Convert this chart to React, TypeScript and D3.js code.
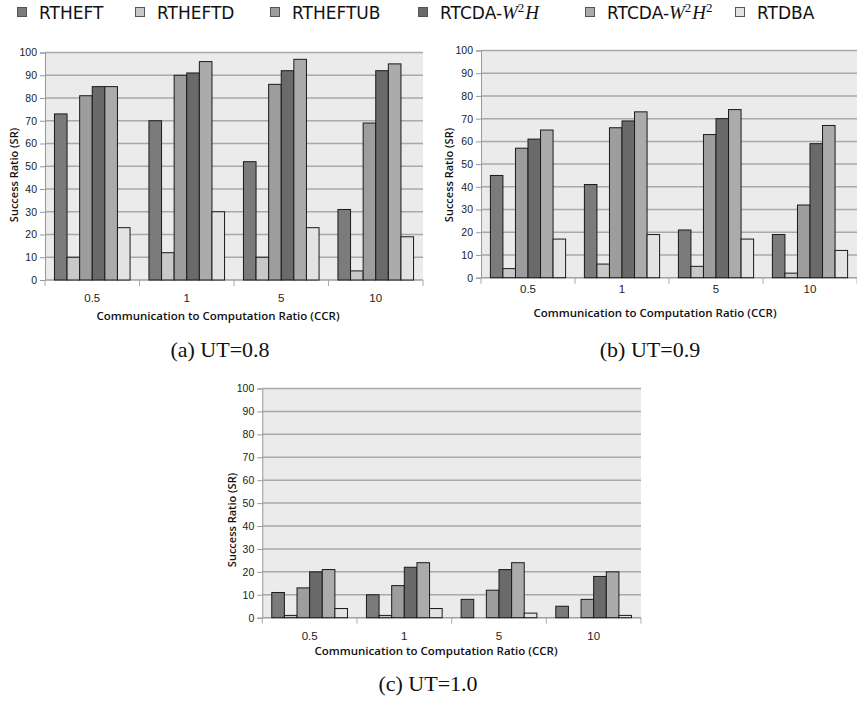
import React, { useEffect, useRef } from "react";
import * as d3 from "d3";

// CCR categories on the x axis
const categories = ["0.5", "1", "5", "10"];
const seriesNames = ["RTHEFT", "RTHEFTD", "RTHEFTUB", "RTCDA-W2H", "RTCDA-W2H2", "RTDBA"];
const seriesColors = ["#7b7b7b", "#c8c8c8", "#9d9d9d", "#6a6a6a", "#ababab", "#e3e3e3"];
const yTicks = [0, 10, 20, 30, 40, 50, 60, 70, 80, 90, 100];

// one row per series, values for CCR 0.5, 1, 5, 10
const ut08 = [
  [73, 70, 52, 31],
  [10, 12, 10, 4],
  [81, 90, 86, 69],
  [85, 91, 92, 92],
  [85, 96, 97, 95],
  [23, 30, 23, 19],
];
const ut09 = [
  [45, 41, 21, 19],
  [4, 6, 5, 2],
  [57, 66, 63, 32],
  [61, 69, 70, 59],
  [65, 73, 74, 67],
  [17, 19, 17, 12],
];
const ut10 = [
  [11, 10, 8, 5],
  [1, 1, 0, 0],
  [13, 14, 12, 8],
  [20, 22, 21, 18],
  [21, 24, 24, 20],
  [4, 4, 2, 1],
];
const captions = ["(a) UT=0.8", "(b) UT=0.9", "(c) UT=1.0"];

const panels = [
  { data: ut08, caption: captions[0], left: 45, right: 423, top: 52.5, bottom: 280,
    tickY: 302, titleX: 218, titleY: 320, yTitleX: 14, yTitleY: 175, capX: 220, capY: 357 },
  { data: ut09, caption: captions[1], left: 481, right: 857, top: 50.5, bottom: 277.7,
    tickY: 293, titleX: 655, titleY: 317, yTitleX: 449, yTitleY: 175, capX: 650, capY: 357 },
  { data: ut10, caption: captions[2], left: 262.3, right: 641, top: 388.5, bottom: 617.7,
    tickY: 640, titleX: 436, titleY: 655, yTitleX: 232, yTitleY: 520, capX: 428, capY: 691 },
];

const legendX = [17, 135, 270, 418, 585, 735];

const SANS = "'Open Sans', sans-serif";
const SERIF = "'Liberation Serif', serif";

function App() {
  const ref = useRef<SVGSVGElement>(null);

  useEffect(() => {
    const svg = d3.select(ref.current);
    svg.selectAll("*").remove();

    // legend
    const leg = svg.append("g");
    seriesNames.forEach((name, i) => {
      const g = leg.append("g").attr("transform", "translate(" + legendX[i] + ",0)");
      g.append("rect")
        .attr("x", 0.5)
        .attr("y", 7.5)
        .attr("width", 9)
        .attr("height", 9)
        .attr("fill", seriesColors[i])
        .attr("stroke", "#555")
        .attr("stroke-width", 1);
      const t = g.append("text")
        .attr("x", 22)
        .attr("y", 19)
        .attr("font-family", "'DejaVu Sans', sans-serif")
        .attr("font-size", 17)
        .attr("fill", "#111");
      if (name.startsWith("RTCDA")) {
        t.append("tspan").text("RTCDA-");
        t.append("tspan").attr("font-family", SERIF).attr("font-style", "italic").attr("font-size", 19).text("W");
        t.append("tspan").attr("font-family", SERIF).attr("font-size", 13).attr("dy", -7).text("2");
        t.append("tspan").attr("font-family", SERIF).attr("font-style", "italic").attr("font-size", 19).attr("dy", 7).attr("dx", 1).text("H");
        if (name.endsWith("H2")) {
          t.append("tspan").attr("font-family", SERIF).attr("font-size", 13).attr("dy", -7).text("2");
        }
      } else {
        t.text(name);
      }
    });

    panels.forEach((p) => {
      const g = svg.append("g");
      const x0 = d3.scaleBand().domain(categories).range([p.left, p.right]).paddingInner(0);
      const x1 = d3.scaleBand<number>()
        .domain(d3.range(seriesNames.length))
        .range([0, x0.bandwidth()])
        .paddingOuter(0.75)
        .paddingInner(0);
      const y = d3.scaleLinear().domain([0, 100]).range([p.bottom, p.top]);

      g.append("rect")
        .attr("x", p.left)
        .attr("y", p.top)
        .attr("width", p.right - p.left)
        .attr("height", p.bottom - p.top)
        .attr("fill", "#ebebeb");

      // grid
      g.selectAll(".grid")
        .data(yTicks.filter((d) => d > 0))
        .enter()
        .append("line")
        .attr("x1", p.left)
        .attr("x2", p.right)
        .attr("y1", (d) => y(d))
        .attr("y2", (d) => y(d))
        .attr("stroke", "#a9a9a9")
        .attr("stroke-width", 1.5);

      // y axis
      const yAxis = d3.axisLeft(y).tickValues(yTicks).tickSize(5).tickPadding(3);
      const ya = g.append("g").attr("transform", "translate(" + p.left + ",0)").call(yAxis);
      ya.select(".domain").attr("stroke", "#999").attr("stroke-width", 1);
      ya.selectAll(".tick line").attr("stroke", "#999");
      ya.selectAll("text")
        .attr("font-family", "'Liberation Sans', Arial, sans-serif")
        .attr("font-size", 10.5)
        .attr("fill", "#222");

      // x axis base line and band ticks
      g.append("line")
        .attr("x1", p.left)
        .attr("x2", p.right)
        .attr("y1", p.bottom)
        .attr("y2", p.bottom)
        .attr("stroke", "#a0a0a0")
        .attr("stroke-width", 1.5);
      const bounds = categories.map((c) => x0(c) as number).concat([p.right]);
      g.selectAll(".xt")
        .data(bounds)
        .enter()
        .append("line")
        .attr("x1", (d) => d)
        .attr("x2", (d) => d)
        .attr("y1", p.bottom)
        .attr("y2", p.bottom + 6)
        .attr("stroke", "#aaa");
      g.selectAll(".xl")
        .data(categories)
        .enter()
        .append("text")
        .attr("x", (d) => (x0(d) as number) + x0.bandwidth() / 2)
        .attr("y", p.tickY)
        .attr("text-anchor", "middle")
        .attr("font-family", "'Liberation Sans', Arial, sans-serif")
        .attr("font-size", 11.5)
        .attr("fill", "#222")
        .text((d) => d);

      // bars
      p.data.forEach((vals, si) => {
        g.selectAll(".b" + si)
          .data(vals)
          .enter()
          .append("rect")
          .attr("x", (d, ci) => (x0(categories[ci]) as number) + (x1(si) as number))
          .attr("y", (d) => y(d))
          .attr("width", x1.bandwidth())
          .attr("height", (d) => p.bottom - y(d))
          .attr("fill", seriesColors[si])
          .attr("stroke", (d) => (d > 0 ? "#1a1a1a" : "none"))
          .attr("stroke-width", 1);
      });

      g.append("text")
        .attr("x", p.titleX)
        .attr("y", p.titleY)
        .attr("text-anchor", "middle")
        .attr("font-family", SANS)
        .attr("font-weight", 600)
        .attr("font-size", 11.5)
        .attr("fill", "#111")
        .text("Communication to Computation Ratio (CCR)");

      g.append("text")
        .attr("transform", "translate(" + p.yTitleX + "," + p.yTitleY + ") rotate(-90)")
        .attr("text-anchor", "middle")
        .attr("dy", "0.35em")
        .attr("font-family", SANS)
        .attr("font-weight", 600)
        .attr("font-size", 11)
        .attr("fill", "#111")
        .text("Success Ratio (SR)");

      g.append("text")
        .attr("x", p.capX)
        .attr("y", p.capY)
        .attr("text-anchor", "middle")
        .attr("font-family", SERIF)
        .attr("font-size", 22)
        .attr("fill", "#111")
        .text(p.caption);
    });
  }, []);

  return (
    <svg
      ref={ref}
      width={857}
      height={703}
      style={{ position: "absolute", left: 0, top: 0, background: "#fff" }}
    />
  );
}

export default App;
